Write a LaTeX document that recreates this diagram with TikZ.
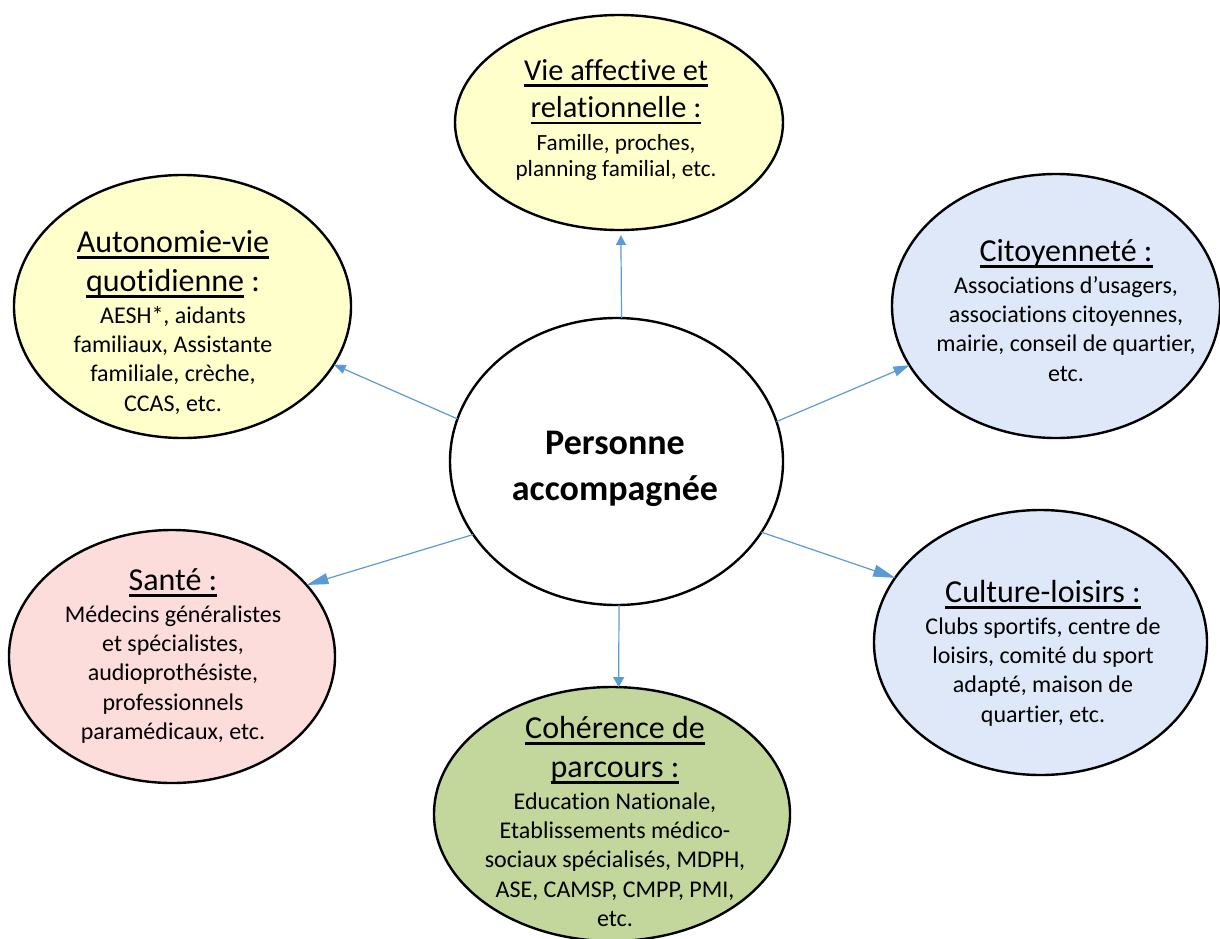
\documentclass[tikz,border=0pt]{standalone}
\usepackage{fontspec}
\setmainfont{Carlito}[Ligatures={NoCommon}]
\usetikzlibrary{arrows.meta,shapes.geometric}
\definecolor{yel}{HTML}{FFFFCC}
\definecolor{blu}{HTML}{DEE8F9}
\definecolor{pnk}{HTML}{FDDCDC}
\definecolor{grn}{HTML}{C3D69B}
\definecolor{arrc}{HTML}{5B9BD5}
\setlength\lineskip{0pt}
\setlength\lineskiplimit{0pt}
\newcommand\myul[1]{\setbox0=\hbox{#1}\rlap{\rule[-6.3pt]{\wd0}{2.3pt}}\box0\relax}
\newcommand\ttl[1]{{\fontsize{32pt}{1pt}\selectfont\rule[-12pt]{0pt}{39pt}#1}}
\newcommand\bdy[1]{{\fontsize{24pt}{1pt}\selectfont\rule[-9.3pt]{0pt}{29.3pt}#1}}
\newcommand\ttlv[1]{{\fontsize{30.4pt}{1pt}\selectfont\rule[-13.5pt]{0pt}{37.5pt}#1}}
\newcommand\bdyv[1]{{\fontsize{23.2pt}{1pt}\selectfont\rule[-6.5pt]{0pt}{26pt}#1}}
\newcommand\ctr[1]{{\fontsize{36pt}{1pt}\selectfont\bfseries\rule[-16pt]{0pt}{46pt}#1}}
\tikzset{
  bubble/.style={ellipse, draw=black, line width=2.4pt, inner sep=0pt, outer sep=0pt},
  txt/.style={align=center, inner sep=0pt, anchor=north},
  conn/.style={draw=arrc, line width=1.2pt},
}
\begin{document}
\begin{tikzpicture}[x=1pt,y=-1pt]
\useasboundingbox (0,0) rectangle (1220,938);
% ellipses
\node[bubble, fill=white, minimum width=333pt, minimum height=287pt] (C) at (616.5,461.5) {};
\node[bubble, fill=yel, minimum width=328pt, minimum height=215pt] (V) at (619,122.5) {};
\node[bubble, fill=yel, minimum width=337pt, minimum height=263pt] (A) at (182.5,306.5) {};
\node[bubble, fill=blu, minimum width=328pt, minimum height=264pt] (Ci) at (1056,306) {};
\node[bubble, fill=pnk, minimum width=326pt, minimum height=253pt] (S) at (172,656.5) {};
\node[bubble, fill=blu, minimum width=333pt, minimum height=265pt] (Cu) at (1040.5,642.5) {};
\node[bubble, fill=grn, minimum width=356pt, minimum height=254pt] (Co) at (612,814) {};
% texts
\node[txt] (Ct) at (615,424.3) {\ctr{Personne}\\\ctr{accompagnée}};
\node[txt] (Vt) at (616,56) {\ttlv{\myul{Vie affective et}}\\\ttlv{\myul{relationnelle :}}\\\bdyv{Famille, proches,}\\\bdyv{planning familial, etc.}};
\node[txt] (At) at (173,225) {\ttl{\myul{Autonomie-vie}}\\\ttl{\myul{quotidienne} :}\\\bdy{AESH*, aidants}\\\bdy{familiaux, Assistante}\\\bdy{familiale, crèche,}\\\bdy{CCAS, etc.}};
\node[txt] (Cit) at (1066,234) {\ttl{\myul{Citoyenneté :}}\\\bdy{Associations d’usagers,}\\\bdy{associations citoyennes,}\\\bdy{mairie, conseil de quartier,}\\\bdy{etc.}};
\node[txt] (St) at (173,563) {\ttl{\myul{Santé :}}\\\bdy{Médecins généralistes}\\\bdy{et spécialistes,}\\\bdy{audioprothésiste,}\\\bdy{professionnels}\\\bdy{paramédicaux, etc.}};
\node[txt] (Cut) at (1043,575) {\ttl{\myul{Culture-loisirs :}}\\\bdy{Clubs sportifs, centre de}\\\bdy{loisirs, comité du sport}\\\bdy{adapté, maison de}\\\bdy{quartier, etc.}};
\node[txt] (Cot) at (615,711) {\ttl{\myul{Cohérence de}}\\\ttl{\myul{parcours :}}\\\bdy{Education Nationale,}\\\bdy{Etablissements médico-}\\\bdy{sociaux spécialisés, MDPH,}\\\bdy{ASE, CAMSP, CMPP, PMI,}\\\bdy{etc.}};
% connectors
\draw[conn, -{Triangle[length=10pt,width=10pt]}, shorten >=5pt] (C.88) -- (V.-89.5);
\draw[conn, -{Triangle[length=12pt,width=9pt]}] (C.165.5) -- (A.-21);
\draw[conn, -{Triangle[length=16pt,width=10pt]}] (C.14.4) -- (Ci.202.3);
\draw[conn, -{Triangle[length=22pt,width=11pt]}] (C.207) -- (S.28.2);
\draw[conn, -{Triangle[length=22pt,width=12pt]}] (C.-26.9) -- (Cu.156.6);
\draw[conn, -{Triangle[length=10pt,width=11pt]}] (C.-89.4) -- (Co.87.7);
\end{tikzpicture}
\end{document}
